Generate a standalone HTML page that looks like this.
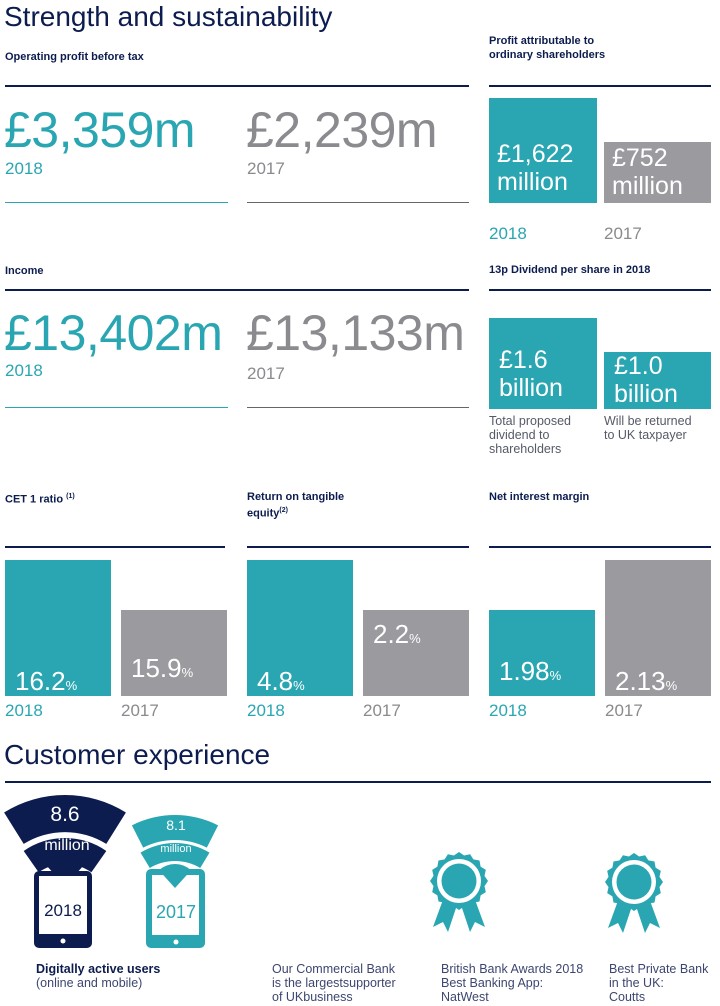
<!DOCTYPE html>
<html><head><meta charset="utf-8">
<style>
body{margin:0;width:720px;height:1006px;position:relative;background:#fff;font-family:"Liberation Sans",Arial,sans-serif;overflow:hidden}
.a{position:absolute;white-space:nowrap}
.h1{font-size:28px;color:#0c1c4e;line-height:1}
.lbl{font-size:11px;font-weight:bold;color:#0c1c4e;line-height:14px}
.ln{position:absolute;height:2px;background:#0c1c4e}
.big{font-size:50px;line-height:1;letter-spacing:-0.5px}
.t{color:#2aa6b2}.g{color:#8a8a8f}
.yr{font-size:17px;line-height:1}
.bt{color:#fff;font-size:25px;line-height:28px}
.sm{font-size:12.5px;color:#555a66;line-height:14px}
.nt{font-size:12.5px;color:#3d4670;line-height:14px;white-space:normal}
</style></head><body>
<div class="a h1" style="left:4px;top:3px">Strength and sustainability</div>

<div class="a lbl" style="left:5px;top:50px">Operating profit before tax</div>
<div class="ln" style="left:5px;top:85px;width:464px"></div>
<div class="a big t" style="left:4px;top:105px">£3,359m</div>
<div class="a yr t" style="left:5px;top:160px">2018</div>
<div class="a big g" style="left:246px;top:105px">£2,239m</div>
<div class="a yr g" style="left:247px;top:160px">2017</div>
<div class="ln" style="left:5px;top:202px;width:223px;height:1px;background:#2aa6b2"></div>
<div class="ln" style="left:247px;top:202px;width:222px;height:1px;background:#666"></div>

<div class="a lbl" style="left:489px;top:34px">Profit attributable to<br>ordinary shareholders</div>
<div class="ln" style="left:489px;top:85px;width:222px"></div>

<div class="a lbl" style="left:5px;top:264px">Income</div>
<div class="ln" style="left:5px;top:289px;width:464px"></div>
<div class="a big t" style="left:4px;top:308px">£13,402m</div>
<div class="a yr t" style="left:5px;top:362px">2018</div>
<div class="a big g" style="left:246px;top:308px">£13,133m</div>
<div class="a yr g" style="left:247px;top:365px">2017</div>
<div class="ln" style="left:5px;top:407px;width:223px;height:1px;background:#2aa6b2"></div>
<div class="ln" style="left:247px;top:407px;width:222px;height:1px;background:#666"></div>

<div class="a lbl" style="left:489px;top:263px">13p Dividend per share in 2018</div>
<div class="ln" style="left:489px;top:289px;width:222px"></div>
<div class="a sm" style="left:489px;top:414px">Total proposed<br>dividend to<br>shareholders</div>
<div class="a sm" style="left:604px;top:414px">Will be returned<br>to UK taxpayer</div>

<div class="a lbl" style="left:5px;top:490px">CET 1 ratio <sup style="font-size:7px">(1)</sup></div>
<div class="ln" style="left:5px;top:546px;width:220px"></div>
<div class="a lbl" style="left:247px;top:490px">Return on tangible<br>equity<sup style="font-size:7px">(2)</sup></div>
<div class="ln" style="left:247px;top:546px;width:222px"></div>
<div class="a lbl" style="left:489px;top:490px">Net interest margin</div>
<div class="ln" style="left:489px;top:546px;width:222px"></div>

<div id="bars"></div>

<div class="a h1" style="left:4px;top:741px">Customer experience</div>
<div class="ln" style="left:5px;top:781px;width:706px"></div>

<svg class="a" style="left:0;top:785px" width="240" height="170">
 <g transform="translate(0,-785)">
  <path id="o18" fill="#0c1c4e"/>
  <path id="m18" fill="#0c1c4e"/>
  <path id="w18" fill="#0c1c4e"/>
  <text x="65" y="821" fill="#fff" font-size="21" text-anchor="middle" font-family="Liberation Sans">8.6</text>
  <text x="67" y="850" fill="#fff" font-size="16" text-anchor="middle" font-family="Liberation Sans">million</text>
  <rect x="34" y="871" width="58" height="77" rx="5" fill="#0c1c4e"/>
  <rect x="39" y="876" width="48" height="58" fill="#fff"/>
  <circle cx="63" cy="941" r="2.5" fill="#fff"/>
  <text x="63" y="916" fill="#0c1c4e" font-size="17" text-anchor="middle" font-family="Liberation Sans">2018</text>

  <path id="o17" fill="#2aa6b2"/>
  <path id="m17" fill="#2aa6b2"/>
  <text x="176" y="830" fill="#fff" font-size="14" text-anchor="middle" font-family="Liberation Sans">8.1</text>
  <text x="176" y="852" fill="#fff" font-size="11" text-anchor="middle" font-family="Liberation Sans">million</text>
  <rect x="146" y="869" width="59" height="79" rx="5" fill="#2aa6b2"/>
  <rect x="152" y="875" width="47" height="60" fill="#fff"/>
  <path id="w17" fill="#2aa6b2"/>
  <circle cx="176" cy="942" r="2.5" fill="#fff"/>
  <text x="176" y="918" fill="#2aa6b2" font-size="18" text-anchor="middle" font-family="Liberation Sans">2017</text>
 </g>
</svg>

<svg class="a" style="left:420px;top:845px" width="260" height="100">
 <g id="medals"></g>
</svg>

<div class="a" style="left:36px;top:962px;font-size:12.5px;line-height:14px;color:#3d4670"><b style="color:#0c1c4e">Digitally active users</b><br>(online and mobile)</div>
<div class="a nt" style="left:272px;top:962px;width:140px">Our Commercial Bank<br>is the largestsupporter<br>of UKbusiness</div>
<div class="a nt" style="left:441px;top:962px;width:160px">British Bank Awards 2018<br>Best Banking App:<br>NatWest</div>
<div class="a nt" style="left:609px;top:962px;width:110px">Best Private Bank<br>in the UK:<br>Coutts</div>

<script>
const TEAL='#2aa6b2', GRAY='#9a9a9f';
const years=['2018','2017'];
const profitValues=[1622,752];
const profitLabels=['£1,622','£752'];
const dividendValues=[1.6,1.0];
const dividendLabels=['£1.6','£1.0'];
const cetValues=[16.2,15.9];
const roteValues=[4.8,2.2];
const nimValues=[1.98,2.13];

function scale(d0,d1,r0,r1){return v=>r0+(v-d0)*(r1-r0)/(d1-d0);}
const root=document.getElementById('bars');
function div(css,cls,txt){const e=document.createElement('div');e.className='a '+(cls||'');e.style.cssText=css;if(txt!==undefined)e.innerHTML=txt;root.appendChild(e);return e;}

(function(){
  const h=scale(Math.min(...profitValues),Math.max(...profitValues),61,105), base=203, xs=[489,604];
  profitValues.forEach((v,i)=>{
    const hh=h(v);
    const b=div(`left:${xs[i]}px;top:${base-hh}px;width:${i?107:108}px;height:${hh}px;background:${i?GRAY:TEAL}`);
    
    
    const t=div(`left:${xs[i]+8}px;top:${base-hh+(i?2:42)}px`,'bt',profitLabels[i]+'<br>million');
    
    
    const y=div(`left:${xs[i]}px;top:225px`,'yr '+(i?'g':'t'),years[i]);
    
    
  });
})();
(function(){
  const h=scale(Math.min(...dividendValues),Math.max(...dividendValues),57,91), base=409, xs=[489,604];
  dividendValues.forEach((v,i)=>{
    const hh=h(v);
    const b=div(`left:${xs[i]}px;top:${base-hh}px;width:${i?107:108}px;height:${hh}px;background:${TEAL}`);
    
    
    const t=div(`left:${xs[i]+10}px;top:${base-hh+(i?0:28)}px`,'bt',dividendLabels[i]+'<br>billion');
    
    
  });
})();
function ratioChart(name,vals,x0,labelTops){
  const vmin=Math.min(...vals),vmax=Math.max(...vals);
  const h=scale(vmin,vmax,86,136), base=696, xs=[x0,x0+116];
  vals.forEach((v,i)=>{
    const hh=h(v);
    const b=div(`left:${xs[i]}px;top:${base-hh}px;width:106px;height:${hh}px;background:${i?GRAY:TEAL}`);
    
    
    const t=div(`left:${xs[i]+10}px;top:${labelTops[i]}px;font-size:26px;line-height:1`,'bt',v.toFixed(name==='nim'?2:1)+'<span style="font-size:13px">%</span>');
    
    
    const y=div(`left:${xs[i]}px;top:702px`,'yr '+(i?'g':'t'),years[i]);
    
    
  });
}
ratioChart('cet1',cetValues,5,[668,655]);
ratioChart('rote',roteValues,247,[668,621]);
ratioChart('nim',nimValues,489,[658,668]);

function sector(cx,cy,ro,ri,deg){
  const a=deg*Math.PI/180,s=Math.sin(a),c=Math.cos(a);
  const p=(r,sg)=>[(cx+sg*r*s).toFixed(1),(cy-r*c).toFixed(1)];
  const [x1,y1]=p(ro,-1),[x2,y2]=p(ro,1),[x3,y3]=p(ri,1),[x4,y4]=p(ri,-1);
  return `M${x1},${y1}A${ro},${ro} 0 0 1 ${x2},${y2}L${x3},${y3}`+(ri>0?`A${ri},${ri} 0 0 0 ${x4},${y4}`:'')+'Z';
}
document.getElementById('o18').setAttribute('d',sector(65,910,115,78,32));
document.getElementById('m18').setAttribute('d',sector(65,910,72,46,35));
document.getElementById('w18').setAttribute('d',sector(65,886,26,0,42));
document.getElementById('o17').setAttribute('d',sector(175,910,95,70,27));
document.getElementById('m17').setAttribute('d',sector(175,910,67,49,31));
document.getElementById('w17').setAttribute('d',sector(175,888,24,0,42));

function medal(cx,cy,name){
  const g=document.getElementById('medals');
  const ns='http://www.w3.org/2000/svg';
  let d='';const n=16;
  for(let k=0;k<n*2;k++){const r=k%2?26:29,a=k*Math.PI/n;d+=(k?'L':'M')+(cx+r*Math.sin(a)).toFixed(1)+','+(cy-r*Math.cos(a)).toFixed(1);}
  const rb=document.createElementNS(ns,'path');
  rb.setAttribute('d',`M${cx-15},${cy+16}L${cx-26},${cy+46}L${cx-16},${cy+41}L${cx-11},${cy+51}L${cx-2},${cy+24}Z M${cx+15},${cy+16}L${cx+26},${cy+46}L${cx+16},${cy+41}L${cx+11},${cy+51}L${cx+2},${cy+24}Z`);
  rb.setAttribute('fill',TEAL);g.appendChild(rb);
  const p=document.createElementNS(ns,'path');p.setAttribute('d',d+'Z');p.setAttribute('fill',TEAL);
  
  
  g.appendChild(p);
  const c1=document.createElementNS(ns,'circle');c1.setAttribute('cx',cx);c1.setAttribute('cy',cy);c1.setAttribute('r',22);c1.setAttribute('fill','#fff');g.appendChild(c1);
  const c2=document.createElementNS(ns,'circle');c2.setAttribute('cx',cx);c2.setAttribute('cy',cy);c2.setAttribute('r',17.5);c2.setAttribute('fill',TEAL);g.appendChild(c2);
}
medal(39,36,'award-medal-natwest');
medal(214,37,'award-medal-coutts');
</script>
</body></html>
